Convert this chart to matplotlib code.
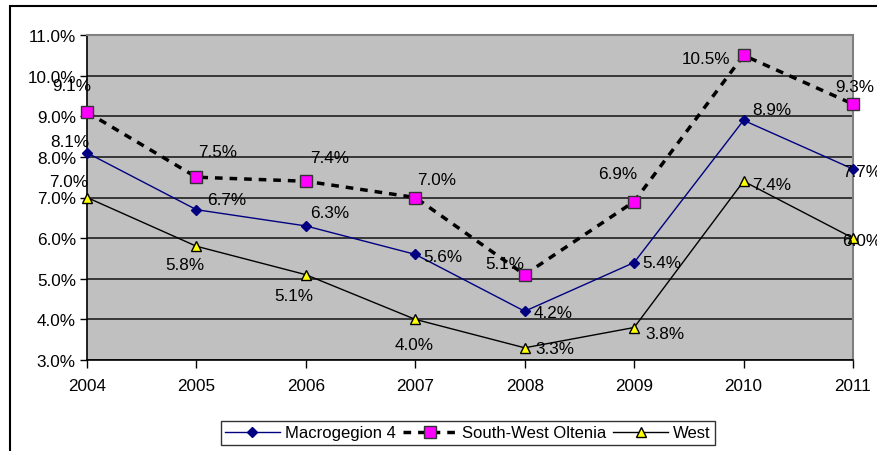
import matplotlib
matplotlib.use("Agg")
import matplotlib.pyplot as plt
from matplotlib.patches import Rectangle

plt.rcParams['font.family'] = ['Liberation Sans', 'DejaVu Sans']

years = ["2004", "2005", "2006", "2007", "2008", "2009", "2010", "2011"]
macro = [8.1, 6.7, 6.3, 5.6, 4.2, 5.4, 8.9, 7.7]
swo = [9.1, 7.5, 7.4, 7.0, 5.1, 6.9, 10.5, 9.3]
west = [7.0, 5.8, 5.1, 4.0, 3.3, 3.8, 7.4, 6.0]
yticks = [3, 4, 5, 6, 7, 8, 9, 10, 11]

# label offsets in pixels (dx, dy up)
off_macro = [(-17, 11), (30, 10), (24, 13), (28, -2), (28, -1), (28, 0), (28, 11), (9, -2)]
off_swo = [(-15, 27), (21, 26), (24, 24), (21, 18), (-20, 11), (-16, 28), (-38, -3), (2, 18)]
off_west = [(-18, 16), (-12, -18), (-12, -21), (-1, -25), (30, -1), (31, -6), (28, -3), (9, -2)]

W, H = 877, 452
fig = plt.figure(figsize=(W / 100, H / 100), dpi=100)
ax = fig.add_axes([87 / W, 1 - 361 / H, (853 - 87) / W, (361 - 36) / H])
ax.set_facecolor('#C0C0C0')

FS = 12.3

x = list(range(len(years)))
ax.plot(x, macro, color='#000080', lw=1.0, marker='D', ms=5.5, mfc='#000080', mec='#000080',
        clip_on=False, zorder=4, label='Macrogegion 4')
ax.plot(x, swo, color='black', lw=2.5, ls=(0, (2.2, 2.0)), marker='s', ms=8.5, mfc='#FF00FF',
        mec='#333333', mew=1.0, clip_on=False, zorder=5, label='South-West Oltenia')
ax.plot(x, west, color='black', lw=1.0, marker='^', ms=6.5, mfc='#FFFF00', mec='black', mew=1.0,
        clip_on=False, zorder=4, label='West')

for vals, offs in ((macro, off_macro), (swo, off_swo), (west, off_west)):
    for i, (v, o) in enumerate(zip(vals, offs)):
        ax.annotate(f"{v:.1f}%", (i, v), xytext=o, textcoords='offset pixels',
                    ha='center', va='center', fontsize=FS, color='black', zorder=6,
                    annotation_clip=False)

ax.set_xlim(0, len(years) - 1)
ax.set_ylim(3, 11)
ax.set_xticks(x)
ax.set_xticklabels(years, fontsize=FS)
ax.set_yticks(yticks)
ax.set_yticklabels([f"{t:.1f}%" for t in yticks], fontsize=FS)
ax.yaxis.grid(True, color='#202020', lw=1.2)
ax.set_axisbelow(True)
ax.tick_params(axis='x', direction='out', length=6, width=1, pad=7, colors='black')
ax.tick_params(axis='y', direction='out', length=5, width=1, pad=3)
for s in ('left', 'bottom'):
    ax.spines[s].set_color('black')
    ax.spines[s].set_linewidth(1.2)
for s in ('right', 'top'):
    ax.spines[s].set_color('#808080')
    ax.spines[s].set_linewidth(1.5)

leg = fig.legend(loc='center', bbox_to_anchor=(468 / W, 1 - 434 / H), ncol=3, fontsize=12,
                 frameon=True, fancybox=False, edgecolor='black', handlelength=3.3,
                 handletextpad=0.3, columnspacing=0.4, borderpad=0.25)
leg.get_frame().set_linewidth(1.0)

fig.patches.append(Rectangle((10 / W, -0.05), 1.2, 1 - 7 / H + 0.05, transform=fig.transFigure,
                             fill=False, edgecolor='black', lw=1.5))

fig.savefig('out.png', dpi=100, facecolor='white')
